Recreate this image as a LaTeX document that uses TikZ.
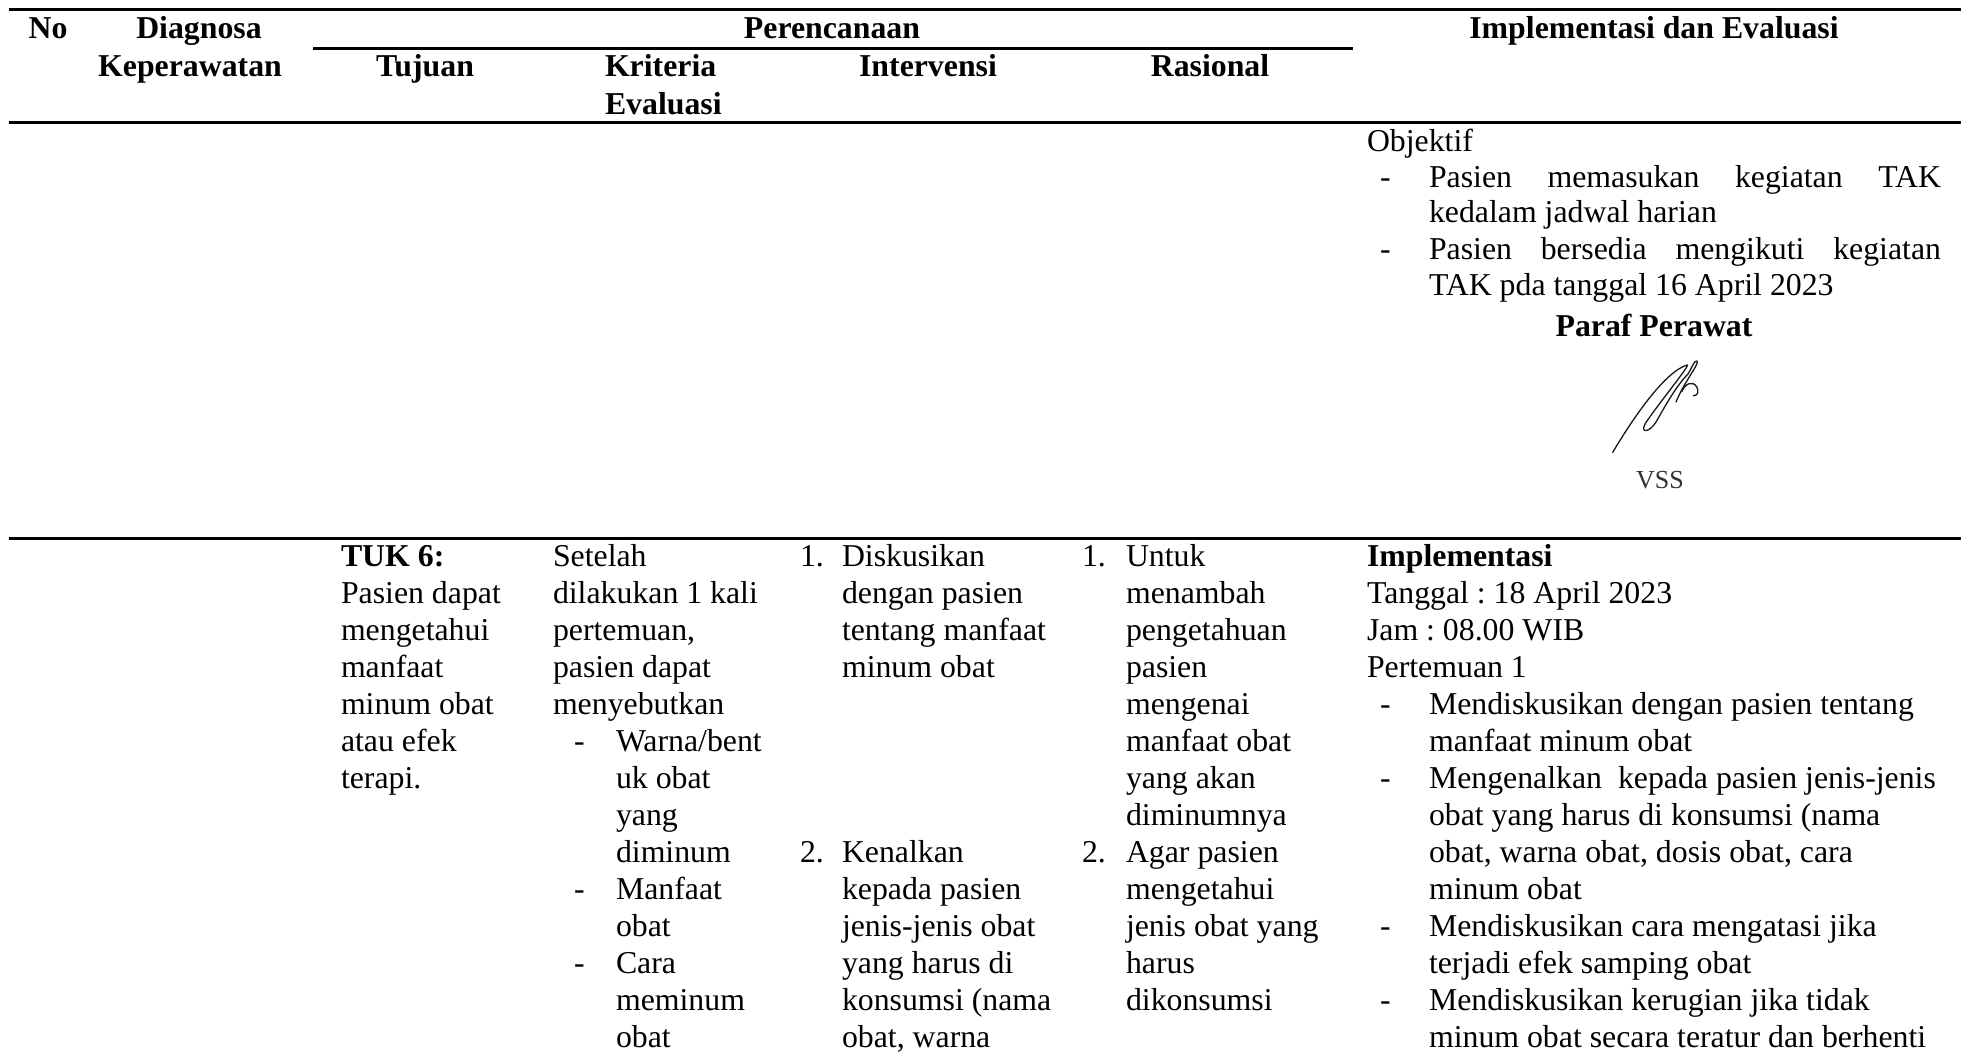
\documentclass[tikz,border=0pt]{standalone}
\usepackage{fontspec}
\setmainfont{Liberation Serif}
\frenchspacing
\newcommand\bodyfont{\fontsize{31.8}{37}\selectfont}
\newcommand\headfont{\fontsize{31.8}{37}\selectfont\bfseries}
\newcommand\sigfont{\fontsize{26}{30}\selectfont}
% one node per printed line, baselines 37pt apart
\newcommand\celllines[4]{%
  \foreach \ln [count=\k from 0] in {#4} {%
    \node[txt] (#1-\k) at (#2, {#3+37*\k}) {\ln};}}
\tikzset{
  x=1pt, y=-1pt,
  txt/.style={inner sep=0pt, outer sep=0pt, font=\bodyfont, anchor=base west},
  hd/.style={inner sep=0pt, outer sep=0pt, font=\headfont, anchor=base},
  hdl/.style={hd, anchor=base west},
  rule/.style={line width=3pt},
  sigline/.style={line width=1.3pt, line cap=round, line join=round, black!90}
}
\begin{document}
\begin{tikzpicture}
\fill[white] (0,0) rectangle (1961,1053);
\useasboundingbox (0,0) rectangle (1961,1053);

% table rules
\draw[rule] (9,9.5) -- (1961,9.5);
\draw[rule] (313,48) -- (1353,48);
\draw[rule] (9,122) -- (1961,122);
\draw[rule] (9,538) -- (1961,538);

% header
\node[hd] (hNo) at (48,38) {No};
\node[hd] (hDiag) at (199,38) {Diagnosa};
\node[hd] (hKep) at (190,76) {Keperawatan};
\node[hd] (hPer) at (832,38) {Perencanaan};
\node[hd] (hTuj) at (425,76) {Tujuan};
\node[hdl] (hKri) at (605,76) {Kriteria};
\node[hdl] (hEva) at (605,114) {Evaluasi};
\node[hd] (hInt) at (928,76) {Intervensi};
\node[hd] (hRas) at (1210,76) {Rasional};
\node[hd] (hImp) at (1654,38) {Implementasi dan Evaluasi};

% first row: evaluation (objective part)
\node[txt] (obj) at (1367,151) {Objektif};
\node[txt] (objd1) at (1380,187) {-};
\node[txt] (obj1a) at (1429,187) {\makebox[512pt][s]{Pasien memasukan kegiatan TAK}};
\node[txt] (obj1b) at (1429,222) {kedalam jadwal harian};
\node[txt] (objd2) at (1380,259) {-};
\node[txt] (obj2a) at (1429,259) {\makebox[512pt][s]{Pasien bersedia mengikuti kegiatan}};
\node[txt] (obj2b) at (1429,295) {TAK pda tanggal 16 April 2023};
\node[hd] (paraf) at (1654,336) {Paraf Perawat};

% nurse's signature
\draw[sigline] (1612.7,452.3)
  .. controls (1635,415) and (1665,372) .. (1687,365)
  .. controls (1692,363) and (1655,408) .. (1645,424)
  .. controls (1640,434) and (1650,432) .. (1656,422)
  .. controls (1664,408) and (1676,386) .. (1688,374)
  .. controls (1692,368) and (1694,360) .. (1697,361)
  .. controls (1700,363) and (1684,382) .. (1676,402);
\draw[sigline] (1681.7,391.7)
  .. controls (1685,384) and (1692,380) .. (1696.7,386.7)
  .. controls (1699,391) and (1698,396) .. (1693.3,395.7);
\node[inner sep=0pt, font=\sigfont, anchor=base, black!80] (vss) at (1660,488) {VSS};

% second row
\celllines{tuj}{341}{566}{\textbf{TUK 6:}, Pasien dapat, mengetahui, manfaat, minum obat, atau efek, terapi.}

\celllines{kri}{553}{566}{Setelah, dilakukan 1 kali, {pertemuan,}, pasien dapat, menyebutkan}
\node[txt] (krid1) at (574,751) {-};
\celllines{kria}{616}{751}{Warna/bent, uk obat, yang, diminum}
\node[txt] (krid2) at (574,899) {-};
\celllines{krib}{616}{899}{Manfaat, obat}
\node[txt] (krid3) at (574,973) {-};
\celllines{kric}{616}{973}{Cara, meminum, obat}

\node[txt] (intn1) at (800,566) {1.};
\celllines{inta}{842}{566}{Diskusikan, dengan pasien, tentang manfaat, minum obat}
\node[txt] (intn2) at (800,862) {2.};
\celllines{intb}{842}{862}{Kenalkan, kepada pasien, jenis-jenis obat, yang harus di, konsumsi (nama, {obat, warna}}

\node[txt] (rasn1) at (1082,566) {1.};
\celllines{rasa}{1126}{566}{Untuk, menambah, pengetahuan, pasien, mengenai, manfaat obat, yang akan, diminumnya}
\node[txt] (rasn2) at (1082,862) {2.};
\celllines{rasb}{1126}{862}{Agar pasien, mengetahui, jenis obat yang, harus, dikonsumsi}

\celllines{imp}{1367}{566}{\textbf{Implementasi}, Tanggal : 18 April 2023, Jam : 08.00 WIB, Pertemuan 1}
\node[txt] (impd1) at (1380,714) {-};
\celllines{impa}{1429}{714}{Mendiskusikan dengan pasien tentang, manfaat minum obat}
\node[txt] (impd2) at (1380,788) {-};
\celllines{impb}{1429}{788}{Mengenalkan~ kepada pasien jenis-jenis, obat yang harus di konsumsi (nama, {obat, warna obat, dosis obat, cara}, minum obat}
\node[txt] (impd3) at (1380,936) {-};
\celllines{impc}{1429}{936}{Mendiskusikan cara mengatasi jika, terjadi efek samping obat}
\node[txt] (impd4) at (1380,1010) {-};
\celllines{impd}{1429}{1010}{Mendiskusikan kerugian jika tidak, minum obat secara teratur dan berhenti}
\end{tikzpicture}
\end{document}
